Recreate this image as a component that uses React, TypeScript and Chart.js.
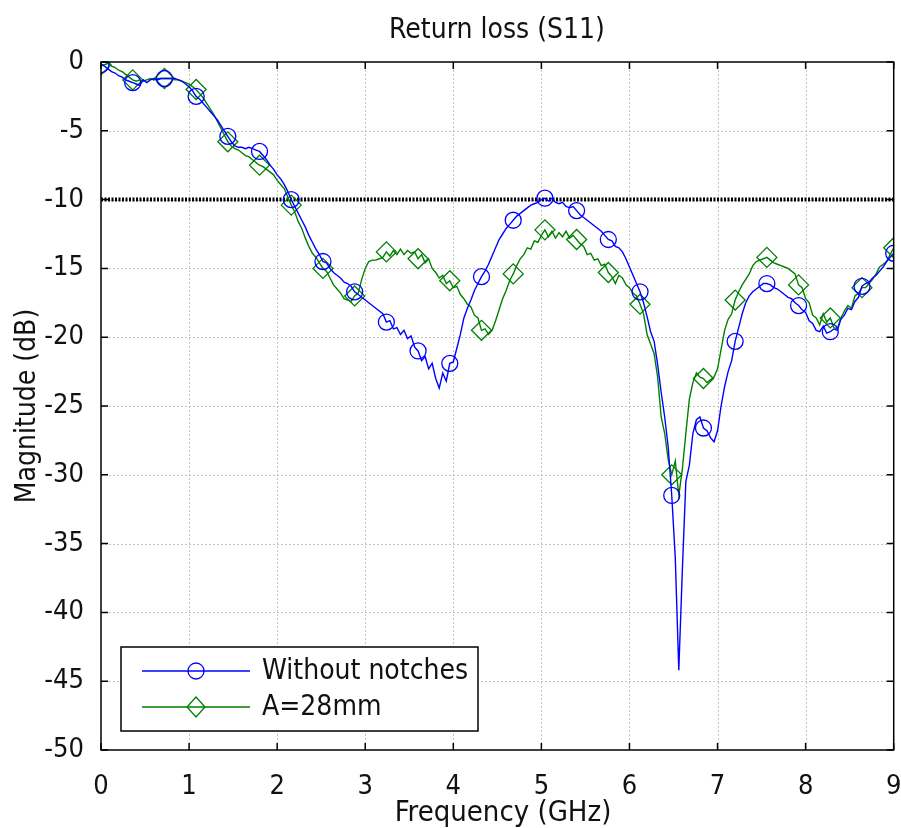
import React, { useEffect, useRef } from "react";
import { Chart, registerables } from "chart.js";

Chart.register(...registerables);

// Sampling grid (GHz), 0.04 GHz step from 0 to 9
const frequencyGHz: number[] = Array.from({ length: 226 }, (_, i) => Math.round(i * 4) / 100);

const withoutNotches: number[] = [
  -0.2, -0.3, -0.5, -0.7, -0.8, -1.0, -1.1, -1.3, -1.4, -1.5,
  -1.6, -1.7, -1.3, -1.5, -1.3, -1.2, -1.3, -1.2, -1.2, -1.2,
  -1.2, -1.2, -1.3, -1.4, -1.6, -1.8, -2.1, -2.5, -2.7, -3.0,
  -3.3, -3.6, -3.9, -4.2, -4.6, -5.0, -5.4, -5.8, -6.1, -6.2,
  -6.2, -6.3, -6.2, -6.3, -6.4, -6.5, -6.8, -7.1, -7.5, -7.8,
  -8.2, -8.5, -8.9, -9.4, -10.0, -10.5, -11.0, -11.5, -12.0, -12.6,
  -13.1, -13.6, -14.0, -14.5, -14.6, -15.0, -15.3, -15.5, -15.7, -16.0,
  -16.1, -16.3, -16.7, -16.9, -17.1, -17.3, -17.5, -17.7, -17.9, -18.1,
  -18.3, -18.9, -18.8, -19.4, -19.3, -19.8, -19.5, -20.1, -19.9, -20.7,
  -21.0, -21.7, -21.4, -22.3, -21.9, -23.0, -23.7, -22.6, -23.2, -21.9,
  -21.8, -20.8, -19.8, -18.6, -17.9, -17.3, -16.6, -16.1, -15.6, -15.2,
  -14.7, -14.1, -13.5, -12.9, -12.5, -12.1, -11.8, -11.5, -11.2, -11.0,
  -10.8, -10.6, -10.4, -10.3, -10.2, -10.0, -9.9, -10.1, -9.9, -10.2,
  -10.3, -10.2, -10.5, -10.6, -10.5, -10.8, -11.1, -11.3, -11.5, -11.7,
  -11.9, -12.1, -12.3, -12.6, -12.9, -13.0, -13.4, -13.5, -13.8, -14.3,
  -14.9, -15.5, -16.1, -16.7, -17.5, -18.5, -19.6, -20.3, -22.0, -24.0,
  -25.8, -28.0, -31.5, -36.0, -44.2, -37.0, -30.5, -29.3, -27.0, -26.0,
  -25.8, -26.6, -26.8, -27.3, -27.6, -26.8, -25.0, -23.6, -22.5, -21.7,
  -20.3, -19.3, -18.3, -17.5, -17.0, -16.7, -16.5, -16.3, -16.1, -16.1,
  -16.2, -16.4, -16.5, -16.7, -16.9, -17.1, -17.2, -17.5, -17.7, -18.0,
  -18.2, -18.8, -19.0, -19.5, -19.6, -19.2, -19.7, -19.6, -19.4, -19.5,
  -18.7, -18.4, -17.9, -18.0, -17.4, -17.1, -16.3, -16.1, -16.0, -15.7,
  -15.5, -15.2, -14.9, -14.5, -14.2, -13.9,
];

const a28mm: number[] = [
  -0.2, -0.2, -0.1, -0.3, -0.4, -0.6, -0.7, -0.9, -1.1, -1.3,
  -1.4, -1.3, -1.4, -1.3, -1.2, -1.3, -1.2, -1.2, -1.2, -1.2,
  -1.2, -1.3, -1.3, -1.4, -1.5, -1.6, -1.8, -2.0, -2.3, -2.6,
  -3.0, -3.4, -3.8, -4.3, -4.8, -5.3, -5.8, -6.1, -6.3, -6.4,
  -6.6, -6.8, -6.9, -7.1, -7.3, -7.5, -7.6, -7.8, -8.0, -8.2,
  -8.6, -8.9, -9.2, -9.8, -10.4, -10.9, -11.6, -12.1, -12.8, -13.4,
  -13.9, -14.2, -14.6, -15.0, -15.2, -15.7, -16.2, -16.5, -16.8, -17.2,
  -17.3, -17.4, -17.0, -16.8, -15.8, -15.0, -14.5, -14.4, -14.4, -14.3,
  -14.2, -13.8, -14.1, -13.7, -14.0, -13.6, -14.0, -13.7, -13.9, -13.8,
  -14.3, -14.0, -14.6, -14.3, -15.0, -15.3, -15.7, -15.5, -16.1, -15.9,
  -16.4, -16.3, -16.9, -17.2, -17.6, -17.8, -18.4, -18.6, -19.5, -19.4,
  -19.8, -19.5, -18.8, -18.0, -17.2, -16.6, -15.9, -15.4, -14.8, -14.3,
  -14.0, -13.5, -13.6, -13.0, -13.1, -12.6, -12.2, -12.7, -12.3, -12.8,
  -12.4, -12.7, -12.3, -12.8, -12.6, -12.9, -13.2, -13.4, -14.0, -13.9,
  -14.4, -14.3, -14.8, -14.7, -15.3, -15.6, -16.1, -15.5, -15.7, -16.2,
  -16.4, -16.8, -17.0, -17.6, -18.3, -19.8, -20.5, -21.2, -22.9, -25.8,
  -27.0, -28.9, -30.0, -29.0, -31.5, -29.6, -27.0, -24.5, -23.3, -22.6,
  -22.9, -23.0, -23.3, -23.1, -22.9, -22.3, -20.9, -19.5, -18.7, -18.3,
  -17.3, -16.7, -16.2, -15.8, -15.4, -14.8, -14.5, -14.4, -14.3, -14.2,
  -14.4, -14.6, -14.7, -14.8, -14.9, -15.0, -15.2, -15.4, -16.2, -16.4,
  -17.2, -17.5, -18.4, -18.6, -19.1, -18.3, -18.9, -18.6, -19.3, -19.4,
  -18.6, -18.1, -17.7, -17.9, -17.0, -16.8, -16.4, -16.4, -16.1, -15.8,
  -15.4, -14.9, -14.7, -14.5, -14.0, -13.5,
];

const thresholdFreq: number[] = [0, 9];
const thresholdLevel: number[] = [-10, -10];

const xTickValues: number[] = [0, 1, 2, 3, 4, 5, 6, 7, 8, 9];
const xTickLabels: string[] = ["0", "1", "2", "3", "4", "5", "6", "7", "8", "9"];
const yTickValues: number[] = [0, -5, -10, -15, -20, -25, -30, -35, -40, -45, -50];
const yTickLabels: string[] = ["0", "-5", "-10", "-15", "-20", "-25", "-30", "-35", "-40", "-45", "-50"];

const seriesNames: string[] = ["Without notches", "A=28mm"];
const chartTitle = "Return loss (S11)";
const xTitle = "Frequency (GHz)";
const yTitle = "Magnitude (dB)";

const FONT = "'DejaVu Sans Condensed', 'DejaVu Sans', sans-serif";
const BLUE = "#0000ff";
const GREEN = "#008000";
const MARK_EVERY = 9;

const decorPlugin = {
  id: "decor",
  beforeDatasetsDraw(chart: any) {
    const { ctx, chartArea: a, scales } = chart;
    ctx.save();
    ctx.strokeStyle = "#c4c4c4";
    ctx.lineWidth = 1;
    ctx.setLineDash([2, 2]);
    xTickValues.forEach((v) => {
      const px = Math.round(scales.x.getPixelForValue(v)) + 0.5;
      if (px <= a.left + 1 || px >= a.right - 1) return;
      ctx.beginPath();
      ctx.moveTo(px, a.top);
      ctx.lineTo(px, a.bottom);
      ctx.stroke();
    });
    yTickValues.forEach((v) => {
      const py = Math.round(scales.y.getPixelForValue(v)) + 0.5;
      if (py <= a.top + 1 || py >= a.bottom - 1) return;
      ctx.beginPath();
      ctx.moveTo(a.left, py);
      ctx.lineTo(a.right, py);
      ctx.stroke();
    });
    ctx.restore();
  },
  afterDraw(chart: any) {
    const { ctx, chartArea: a, scales } = chart;
    ctx.save();
    ctx.setLineDash([]);
    ctx.strokeStyle = "#000";
    ctx.lineWidth = 1.5;
    ctx.strokeRect(a.left, a.top, a.right - a.left, a.bottom - a.top);
    const tl = 7;
    ctx.beginPath();
    xTickValues.forEach((v) => {
      const px = scales.x.getPixelForValue(v);
      ctx.moveTo(px, a.bottom);
      ctx.lineTo(px, a.bottom - tl);
      ctx.moveTo(px, a.top);
      ctx.lineTo(px, a.top + tl);
    });
    yTickValues.forEach((v) => {
      const py = scales.y.getPixelForValue(v);
      ctx.moveTo(a.left, py);
      ctx.lineTo(a.left + tl, py);
      ctx.moveTo(a.right, py);
      ctx.lineTo(a.right - tl, py);
    });
    ctx.stroke();

    // titles
    ctx.fillStyle = "#111";
    ctx.textAlign = "center";
    ctx.textBaseline = "middle";
    ctx.font = `28px ${FONT}`;
    ctx.fillText(chartTitle, 497, 31);
    ctx.font = `29px ${FONT}`;
    ctx.fillText(xTitle, 503, 813);
    ctx.save();
    ctx.translate(28, 406);
    ctx.rotate(-Math.PI / 2);
    ctx.font = `28px ${FONT}`;
    ctx.fillText(yTitle, 0, 0);
    ctx.restore();

    // legend
    const lx = 121, ly = 647, lw = 357, lh = 84;
    ctx.fillStyle = "#fff";
    ctx.fillRect(lx, ly, lw, lh);
    ctx.strokeStyle = "#000";
    ctx.lineWidth = 1.5;
    ctx.strokeRect(lx, ly, lw, lh);
    const rows = [
      { name: seriesNames[0], color: BLUE, shape: "circle", y: 671 },
      { name: seriesNames[1], color: GREEN, shape: "diamond", y: 707 },
    ];
    rows.forEach((r) => {
      ctx.strokeStyle = r.color;
      ctx.lineWidth = 1.3;
      ctx.beginPath();
      ctx.moveTo(142, r.y);
      ctx.lineTo(250, r.y);
      ctx.stroke();
      ctx.beginPath();
      if (r.shape === "circle") {
        ctx.arc(196, r.y, 8, 0, Math.PI * 2);
      } else {
        ctx.moveTo(196, r.y - 10);
        ctx.lineTo(205, r.y);
        ctx.lineTo(196, r.y + 10);
        ctx.lineTo(187, r.y);
        ctx.closePath();
      }
      ctx.stroke();
      ctx.fillStyle = "#111";
      ctx.textAlign = "left";
      ctx.textBaseline = "middle";
      ctx.font = `28px ${FONT}`;
      ctx.fillText(r.name, 262, r.y + 1);
    });
    ctx.restore();
  },
};

export default function App() {
  const ref = useRef<HTMLCanvasElement | null>(null);
  useEffect(() => {
    if (!ref.current) return;
    const mk = (vals: number[]) => frequencyGHz.map((f, i) => ({ x: f, y: vals[i] }));
    const chart = new Chart(ref.current, {
      type: "line",
      data: {
        datasets: [
          {
            label: seriesNames[0],
            data: mk(withoutNotches),
            borderColor: BLUE,
            backgroundColor: "transparent",
            borderWidth: 1.4,
            pointStyle: "circle",
            pointRadius: (c: any) => (c.dataIndex % MARK_EVERY === 0 ? 8 : 0),
            pointBorderColor: BLUE,
            pointBackgroundColor: "transparent",
            pointBorderWidth: 1.3,
            tension: 0,
            order: 1,
          },
          {
            label: seriesNames[1],
            data: mk(a28mm),
            borderColor: GREEN,
            backgroundColor: "transparent",
            borderWidth: 1.4,
            pointStyle: "rectRot",
            pointRadius: (c: any) => (c.dataIndex % MARK_EVERY === 0 ? 10 : 0),
            pointBorderColor: GREEN,
            pointBackgroundColor: "transparent",
            pointBorderWidth: 1.3,
            tension: 0,
            order: 2,
          },
          {
            label: "threshold",
            data: thresholdFreq.map((f, i) => ({ x: f, y: thresholdLevel[i] })),
            borderColor: "#000",
            borderWidth: 4,
            borderDash: [2, 1.5],
            pointRadius: 0,
            order: 3,
          },
        ],
      },
      options: {
        responsive: false,
        animation: false,
        events: [],
        layout: { padding: { top: 62, right: 4, left: 0, bottom: 0 } },
        plugins: { legend: { display: false }, tooltip: { enabled: false }, title: { display: false } },
        scales: {
          x: {
            type: "linear",
            min: 0,
            max: 9,
            grid: { display: false },
            border: { display: false },
            afterFit: (s: any) => { s.height = 78; s.paddingLeft = 0; s.paddingRight = 0; },
            afterBuildTicks: (s: any) => { s.ticks = xTickValues.map((v) => ({ value: v })); },
            ticks: {
              padding: 13,
              color: "#111",
              font: { family: FONT, size: 27 },
              maxRotation: 0,
              callback: (v: any) => xTickLabels[xTickValues.indexOf(Number(v))] ?? "",
            },
          },
          y: {
            type: "linear",
            min: -50,
            max: 0,
            grid: { display: false },
            border: { display: false },
            afterFit: (s: any) => { s.width = 101; s.paddingTop = 0; s.paddingBottom = 0; },
            afterBuildTicks: (s: any) => { s.ticks = yTickValues.map((v) => ({ value: v })); },
            ticks: {
              padding: 9,
              color: "#111",
              font: { family: FONT, size: 27 },
              callback: (v: any) => yTickLabels[yTickValues.indexOf(Number(v))] ?? "",
            },
          },
        },
      },
      plugins: [decorPlugin],
    } as any);
    return () => chart.destroy();
  }, []);
  return (
    <div style={{ position: "absolute", left: 0, top: 0, width: 901, height: 828, overflow: "hidden", background: "#fff" }}>
      <canvas ref={ref} width={905} height={828} style={{ display: "block" }} />
    </div>
  );
}
